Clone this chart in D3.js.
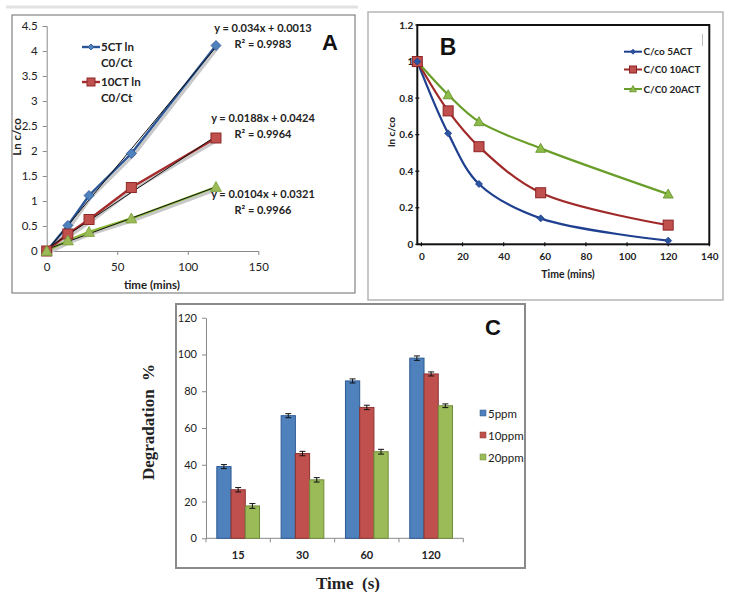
<!DOCTYPE html>
<html><head><meta charset="utf-8">
<script src="https://cdn.jsdelivr.net/npm/d3@7"></script>
<style>
body{margin:0;background:#fff;}
svg{display:block;font-family:Lato,"Open Sans",sans-serif;}
</style></head>
<body>
<svg id="c" width="736" height="592"></svg>
<script>
// ---------- Panel A data ----------
const timeA = [0, 15, 30, 60, 120];
const a5CT = [0, 0.51, 1.11, 1.95, 4.11];
const a10CT = [0, 0.34, 0.63, 1.27, 2.26];
const a20CT = [0, 0.21, 0.38, 0.65, 1.28];
const slopesA = [0.034, 0.0188, 0.0104];
const interceptsA = [0.0013, 0.0424, 0.0321];
const eqLabelsA = ["y = 0.034x + 0.0013", "y = 0.0188x + 0.0424", "y = 0.0104x + 0.0321"];
const r2LabelsA = ["R² = 0.9983", "R² = 0.9964", "R² = 0.9966"];
const xTicksA = [0, 50, 100, 150];
const yTicksA = [0, 0.5, 1, 1.5, 2, 2.5, 3, 3.5, 4, 4.5];
const legendA = [["5CT ln", "C0/Ct"], ["10CT ln", "C0/Ct"]];

// ---------- Panel B data ----------
const timeB = [-2, 13, 28, 58, 120];
const b5ACT = [1.0, 0.607, 0.33, 0.142, 0.02];
const b10ACT = [1.0, 0.73, 0.534, 0.282, 0.105];
const b20ACT = [1.0, 0.818, 0.671, 0.525, 0.275];
const legendB = ["C/co 5ACT", "C/C0 10ACT", "C/C0 20ACT"];
const xTicksB = [0, 20, 40, 60, 80, 100, 120, 140];
const yTicksB = [0, 0.2, 0.4, 0.6, 0.8, 1, 1.2];

// ---------- Panel C data ----------
const catsC = ["15", "30", "60", "120"];
const seriesC = ["5ppm", "10ppm", "20ppm"];
const c5ppm = [39, 66.7, 85.6, 98];
const c10ppm = [26.4, 46.1, 71.2, 89.4];
const c20ppm = [17.6, 31.8, 47.1, 72.1];
const errC5 = [1.1, 1.1, 1.1, 1.2];
const errC10 = [1.2, 1.2, 1.2, 1.1];
const errC20 = [1.3, 1.2, 1.3, 1.0];
const yTicksC = [0, 20, 40, 60, 80, 100, 120];

const svg = d3.select("#c");
svg.append("rect").attr("width", 736).attr("height", 592).attr("fill", "#fff");

function marker(g, type, x, y, size, fill, stroke) {
  if (type === "diamond") {
    const s = size / 2;
    g.append("path").attr("d", `M${x},${y - s}L${x + s},${y}L${x},${y + s}L${x - s},${y}Z`)
      .attr("fill", fill).attr("stroke", stroke).attr("stroke-width", 0.8);
  } else if (type === "square") {
    const s = size / 2;
    g.append("rect").attr("x", x - s).attr("y", y - s).attr("width", size).attr("height", size)
      .attr("fill", fill).attr("stroke", stroke).attr("stroke-width", 1);
  } else {
    const s = size / 2;
    g.append("path").attr("d", `M${x},${y - s}L${x + s},${y + s * 0.8}L${x - s},${y + s * 0.8}Z`)
      .attr("fill", fill).attr("stroke", stroke).attr("stroke-width", 0.8);
  }
}

// ================= PANEL A =================
(function () {
  const g = svg.append("g");
  g.append("line").attr("x1", 6).attr("x2", 358).attr("y1", 7).attr("y2", 7)
    .attr("stroke", "#e2e2e2").attr("stroke-width", 3);
  g.append("rect").attr("x", 12).attr("y", 15).attr("width", 343).attr("height", 278)
    .attr("fill", "#fff").attr("stroke", "#6b6b6b").attr("stroke-width", 1);

  const x = d3.scaleLinear().domain([0, 150]).range([46.7, 258.3]);
  const y = d3.scaleLinear().domain([0, 4.5]).range([251, 26]);

  const yAx = g.append("g").attr("transform", `translate(${x(0)},0)`)
    .call(d3.axisLeft(y).tickValues(yTicksA).tickSize(4).tickPadding(5).tickFormat(d => String(d)));
  const xAx = g.append("g").attr("transform", `translate(0,${y(0)})`)
    .call(d3.axisBottom(x).tickValues(xTicksA).tickSize(4).tickPadding(8).tickSizeOuter(0));
  [yAx, xAx].forEach(a => {
    a.select(".domain").attr("stroke", "#8a8a8a");
    a.selectAll(".tick line").attr("stroke", "#8a8a8a");
    a.selectAll("text").attr("font-size", 11.5).attr("fill", "#222").attr("font-family", "Lato");
  });

  g.append("text").attr("x", 152).attr("y", 289).attr("text-anchor", "middle")
    .attr("font-size", 11.5).attr("font-weight", "bold").attr("fill", "#222").text("time (mins)");
  g.append("text").attr("transform", "translate(21,137) rotate(-90)").attr("text-anchor", "middle")
    .attr("font-size", 11.5).attr("font-weight", "bold").attr("fill", "#222").text("Ln  c/co");

  const series = [
    { v: a5CT, line: "#2a5597", fill: "#4f81bd", stroke: "#2a5597", m: "diamond", ms: 10 },
    { v: a10CT, line: "#a42a2b", fill: "#c0504d", stroke: "#8c2a28", m: "square", ms: 10 },
    { v: a20CT, line: "#8dbb3a", fill: "#9bbb59", stroke: "#7a9e3a", m: "triangle", ms: 11 }
  ];
  const ln = d3.line().x((d, i) => x(timeA[i])).y(d => y(d));
  series.forEach(s => {
    g.append("path").datum(s.v).attr("d", ln).attr("fill", "none")
      .attr("stroke", "#c8c8c8").attr("stroke-width", 3).attr("transform", "translate(2,2)");
    g.append("path").datum(s.v).attr("d", ln).attr("fill", "none")
      .attr("stroke", s.line).attr("stroke-width", 2.4);
  });
  // trendlines
  slopesA.forEach((m, i) => {
    g.append("line").attr("x1", x(0)).attr("y1", y(interceptsA[i]))
      .attr("x2", x(120)).attr("y2", y(m * 120 + interceptsA[i]))
      .attr("stroke", "#111").attr("stroke-width", 1);
  });
  series.forEach(s => {
    s.v.forEach((d, i) => marker(g, s.m, x(timeA[i]), y(d), s.ms, s.fill, s.stroke));
  });

  // equation labels
  const eqY = [32, 122, 198];
  eqLabelsA.forEach((t, i) => {
    g.append("text").attr("x", 263).attr("y", eqY[i]).attr("text-anchor", "middle")
      .attr("font-size", 11).attr("fill", "#222").attr("font-family", "'Liberation Sans Narrow',Lato,sans-serif")
      .attr("font-weight", "bold").text(t);
    g.append("text").attr("x", 263).attr("y", eqY[i] + 16).attr("text-anchor", "middle")
      .attr("font-size", 11).attr("fill", "#222").attr("font-family", "'Liberation Sans Narrow',Lato,sans-serif")
      .attr("font-weight", "bold").text(r2LabelsA[i]);
  });

  // legend
  const legY = [47, 82];
  legendA.forEach((lab, i) => {
    const s = series[i];
    g.append("line").attr("x1", 82).attr("x2", 100).attr("y1", legY[i]).attr("y2", legY[i])
      .attr("stroke", s.line).attr("stroke-width", 2.4);
    marker(g, s.m, 91, legY[i], i === 0 ? 6 : 8, s.fill, s.stroke);
    g.append("text").attr("x", 101).attr("y", legY[i] + 4).attr("font-size", 11.5)
      .attr("fill", "#222").attr("font-family", "'Liberation Sans Narrow',Lato,sans-serif").attr("font-weight", "bold").text(lab[0]);
    g.append("text").attr("x", 101).attr("y", legY[i] + 20).attr("font-size", 11.5)
      .attr("fill", "#222").attr("font-family", "'Liberation Sans Narrow',Lato,sans-serif").attr("font-weight", "bold").text(lab[1]);
  });

  g.append("text").attr("x", 330).attr("y", 50).attr("text-anchor", "middle")
    .attr("font-size", 22).attr("font-weight", "bold").attr("font-family", "'Liberation Sans',Arial,sans-serif")
    .attr("fill", "#111").text("A");
})();

// ================= PANEL B =================
(function () {
  const g = svg.append("g");
  g.append("rect").attr("x", 368).attr("y", 12).attr("width", 355).attr("height", 288)
    .attr("fill", "#fff").attr("stroke", "#b5b5b5").attr("stroke-width", 1.5);

  const x = d3.scaleLinear().domain([-2, 140]).range([417.3, 709.3]);
  const y = d3.scaleLinear().domain([0, 1.2]).range([244.3, 25]);

  g.append("rect").attr("x", x(-2)).attr("y", y(1.2)).attr("width", x(140) - x(-2))
    .attr("height", y(0) - y(1.2)).attr("fill", "none").attr("stroke", "#111").attr("stroke-width", 2);

  const yAx = g.append("g").attr("transform", `translate(${x(-2)},0)`)
    .call(d3.axisLeft(y).tickValues(yTicksB).tickSize(0).tickPadding(4).tickFormat(d => String(d)));
  const xAx = g.append("g").attr("transform", `translate(0,${y(0)})`)
    .call(d3.axisBottom(x).tickValues(xTicksB).tickSize(0).tickPadding(9));
  [yAx, xAx].forEach(a => {
    a.select(".domain").remove();
    a.selectAll("text").attr("font-size", 10).attr("fill", "#222").attr("font-weight", "bold")
      .attr("font-family", "'Liberation Sans Narrow',Lato,sans-serif");
  });
  // small tick marks
  yTicksB.forEach(t => g.append("line").attr("x1", x(-2) - 2).attr("x2", x(-2) + 2)
    .attr("y1", y(t)).attr("y2", y(t)).attr("stroke", "#111").attr("stroke-width", 1.2));
  xTicksB.forEach(t => g.append("line").attr("x1", x(t)).attr("x2", x(t))
    .attr("y1", y(0) - 2).attr("y2", y(0) + 2).attr("stroke", "#111").attr("stroke-width", 1.2));

  g.append("text").attr("x", 568).attr("y", 278).attr("text-anchor", "middle")
    .attr("font-size", 10.5).attr("font-weight", "bold").attr("fill", "#222")
    .attr("font-family", "'Liberation Sans Narrow',Lato,sans-serif").text("Time (mins)");
  g.append("text").attr("transform", "translate(395,132) rotate(-90)").attr("text-anchor", "middle")
    .attr("font-size", 10).attr("font-weight", "bold").attr("fill", "#222")
    .attr("font-family", "'Liberation Sans Narrow',Lato,sans-serif").text("ln c/co");

  const series = [
    { v: b5ACT, line: "#1f3f8f", fill: "#2c55a0", stroke: "#1f3f8f", m: "diamond", ms: 7 },
    { v: b10ACT, line: "#a02a2a", fill: "#c0504d", stroke: "#8c2224", m: "square", ms: 10 },
    { v: b20ACT, line: "#6a9e2a", fill: "#8dbb4a", stroke: "#5f8f25", m: "triangle", ms: 10 }
  ];
  const ln = d3.line().x((d, i) => x(timeB[i])).y(d => y(d)).curve(d3.curveCatmullRom.alpha(0.5));
  series.forEach(s => {
    g.append("path").datum(s.v).attr("d", ln).attr("fill", "none")
      .attr("stroke", s.line).attr("stroke-width", 2.2);
  });
  series.slice().reverse().forEach(s => {
    s.v.forEach((d, i) => marker(g, s.m, x(timeB[i]), y(d), s.ms, s.fill, s.stroke));
  });

  const legY = [51.7, 69.5, 89];
  legendB.forEach((t, i) => {
    const s = series[i];
    g.append("line").attr("x1", 624).attr("x2", 642).attr("y1", legY[i]).attr("y2", legY[i])
      .attr("stroke", s.line).attr("stroke-width", 2);
    marker(g, s.m, 633, legY[i], i === 0 ? 5 : 7, s.fill, s.stroke);
    g.append("text").attr("x", 643.5).attr("y", legY[i] + 3.5).attr("font-size", 10)
      .attr("font-weight", "bold").attr("fill", "#222")
      .attr("font-family", "'Liberation Sans Narrow',Lato,sans-serif").text(t);
  });
  g.append("line").attr("x1", 702.5).attr("x2", 702.5).attr("y1", 34).attr("y2", 46)
    .attr("stroke", "#bbb").attr("stroke-width", 1);

  g.append("text").attr("x", 448).attr("y", 55).attr("text-anchor", "middle")
    .attr("font-size", 23).attr("font-weight", "bold").attr("font-family", "'Liberation Sans',Arial,sans-serif")
    .attr("fill", "#111").text("B");
})();

// ================= PANEL C =================
(function () {
  const g = svg.append("g");
  g.append("rect").attr("x", 176).attr("y", 304).attr("width", 349).attr("height", 264)
    .attr("fill", "#fff").attr("stroke", "#8a8a8a").attr("stroke-width", 2);

  const x0 = d3.scaleBand().domain(catsC).range([206, 463.3]).paddingInner(0.336).paddingOuter(0.168);
  const x1 = d3.scaleBand().domain(seriesC).range([0, x0.bandwidth()]);
  const y = d3.scaleLinear().domain([0, 120]).range([538.3, 317.7]);

  const yAx = g.append("g").attr("transform", "translate(206,0)")
    .call(d3.axisLeft(y).tickValues(yTicksC).tickSize(4).tickPadding(5).tickSizeOuter(0));
  yAx.select(".domain").attr("stroke", "#8a8a8a");
  yAx.selectAll(".tick line").attr("stroke", "#8a8a8a");
  yAx.selectAll("text").attr("font-size", 11).attr("fill", "#222")
    .attr("font-family", "'Liberation Sans Narrow',Lato,sans-serif");

  g.append("line").attr("x1", 206).attr("x2", 463.3).attr("y1", y(0)).attr("y2", y(0))
    .attr("stroke", "#8a8a8a");
  const step = x0.step();
  for (let i = 0; i <= catsC.length; i++) {
    const xx = 206 + i * step;
    g.append("line").attr("x1", xx).attr("x2", xx).attr("y1", y(0)).attr("y2", y(0) + 4)
      .attr("stroke", "#8a8a8a");
  }
  catsC.forEach(c => {
    g.append("text").attr("x", x0(c) + x0.bandwidth() / 2).attr("y", 559).attr("text-anchor", "middle")
      .attr("font-size", 11).attr("fill", "#222").attr("font-weight", "bold")
      .attr("font-family", "'Liberation Sans Narrow',Lato,sans-serif").text(c);
  });

  const vals = [c5ppm, c10ppm, c20ppm];
  const errs = [errC5, errC10, errC20];
  const fills = ["#4f81bd", "#c0504d", "#9bbb59"];
  const strokes = ["#2c5a94", "#8c3331", "#6f8c3a"];
  seriesC.forEach((s, si) => {
    catsC.forEach((c, ci) => {
      const bx = x0(c) + x1(s);
      const v = vals[si][ci];
      g.append("rect").attr("x", bx).attr("y", y(v)).attr("width", x1.bandwidth())
        .attr("height", y(0) - y(v)).attr("fill", fills[si]).attr("stroke", strokes[si]).attr("stroke-width", 1);
    });
  });
  seriesC.forEach((s, si) => {
    catsC.forEach((c, ci) => {
      const cx = x0(c) + x1(s) + x1.bandwidth() / 2;
      const v = vals[si][ci], e = errs[si][ci];
      g.append("line").attr("x1", cx).attr("x2", cx).attr("y1", y(v + e)).attr("y2", y(v - e))
        .attr("stroke", "#111").attr("stroke-width", 1);
      [v + e, v - e].forEach(t => g.append("line").attr("x1", cx - 3).attr("x2", cx + 3)
        .attr("y1", y(t)).attr("y2", y(t)).attr("stroke", "#111").attr("stroke-width", 1));
    });
  });

  const legY = [414, 436, 458];
  seriesC.forEach((s, i) => {
    g.append("rect").attr("x", 480).attr("y", legY[i] - 4).attr("width", 6).attr("height", 6)
      .attr("fill", fills[i]).attr("stroke", strokes[i]).attr("stroke-width", 0.5);
    g.append("text").attr("x", 488).attr("y", legY[i] + 4).attr("font-size", 11.5).attr("fill", "#222")
      .attr("font-family", "'Liberation Sans Narrow',Lato,sans-serif").text(s);
  });

  g.append("text").attr("x", 493).attr("y", 335).attr("text-anchor", "middle")
    .attr("font-size", 22).attr("font-weight", "bold").attr("font-family", "'Liberation Sans',Arial,sans-serif")
    .attr("fill", "#111").text("C");

  g.append("text").attr("transform", "translate(154,422) rotate(-90)").attr("text-anchor", "middle")
    .attr("font-size", 17).attr("font-weight", "bold").attr("fill", "#222")
    .attr("font-family", "'Liberation Serif','Times New Roman',serif").attr("xml:space", "preserve")
    .text("Degradation  %");
  g.append("text").attr("x", 348).attr("y", 589).attr("text-anchor", "middle")
    .attr("font-size", 17).attr("font-weight", "bold").attr("fill", "#222")
    .attr("font-family", "'Liberation Serif','Times New Roman',serif").attr("xml:space", "preserve")
    .text("Time  (s)");
})();
</script>
</body></html>
